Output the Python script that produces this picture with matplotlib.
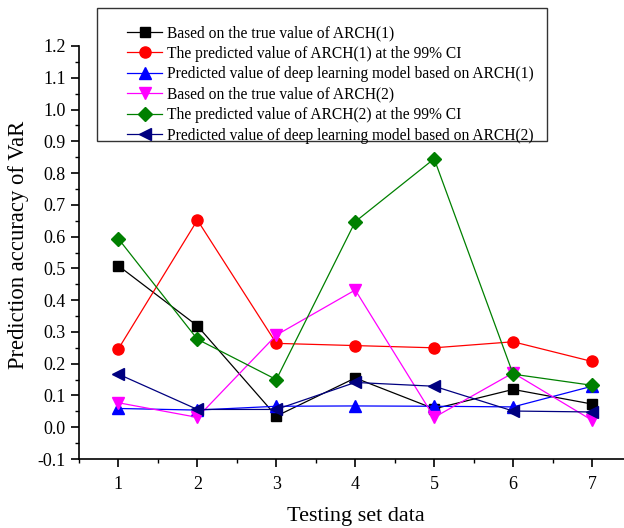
import matplotlib
matplotlib.use("Agg")
import matplotlib.pyplot as plt
from matplotlib.ticker import MultipleLocator
from matplotlib.patches import Rectangle

x = [1, 2, 3, 4, 5, 6, 7]
true_arch1 = [0.508, 0.319, 0.035, 0.155, 0.058, 0.119, 0.073]
pred_arch1_ci = [0.247, 0.652, 0.264, 0.257, 0.250, 0.269, 0.207]
dl_arch1 = [0.059, 0.054, 0.066, 0.067, 0.066, 0.064, 0.129]
true_arch2 = [0.077, 0.031, 0.290, 0.432, 0.031, 0.171, 0.022]
pred_arch2_ci = [0.593, 0.277, 0.150, 0.647, 0.845, 0.167, 0.132]
dl_arch2 = [0.167, 0.056, 0.056, 0.141, 0.129, 0.051, 0.048]

labels = [
    "Based on the true value of ARCH(1)",
    "The predicted value of ARCH(1) at the 99% CI",
    "Predicted value of deep learning model based on ARCH(1)",
    "Based on the true value of ARCH(2)",
    "The predicted value of ARCH(2) at the 99% CI",
    "Predicted value of deep learning model based on ARCH(2)",
]
series = [true_arch1, pred_arch1_ci, dl_arch1, true_arch2, pred_arch2_ci, dl_arch2]
colors = ["black", "red", "blue", "magenta", "green", "navy"]
markers = ["s", "o", "^", "v", "D", "<"]
msizes = [7, 8, 8, 8, 7, 8]

plt.rcParams["font.family"] = ["Liberation Serif", "DejaVu Serif"]

W, H = 624, 528
fig = plt.figure(figsize=(W/100, H/100), dpi=100)
ax = fig.add_axes([79/W, (H-459)/H, 1 - 79/W, (459-46)/H])

for ys, c, m, ms, lab in zip(series, colors, markers, msizes, labels):
    ax.plot(x, ys, color=c, marker=m, markersize=ms, linewidth=0.9, label=lab)

ax.set_xlim(0.5, 7.405)
ax.set_ylim(-0.1, 1.2)
ax.xaxis.set_major_locator(MultipleLocator(1))
ax.xaxis.set_minor_locator(MultipleLocator(0.5))
ax.yaxis.set_minor_locator(MultipleLocator(0.05))
yt = [round(-0.1 + 0.1*i, 1) for i in range(14)]
ax.set_yticks(yt)
ax.set_yticklabels([f"{v:.1f}" for v in yt])
ax.spines["top"].set_visible(False)
ax.spines["right"].set_visible(False)
ax.spines["left"].set_linewidth(1.2)
ax.spines["bottom"].set_linewidth(1.2)
ax.tick_params(which="major", direction="out", length=6, width=1.2, labelsize=13)
ax.tick_params(axis="x", which="major", pad=6)
ax.tick_params(which="minor", direction="out", length=3, width=1.0)
ax.set_xlabel("Testing set data", fontsize=16)
ax.set_ylabel("Prediction accuracy of VaR", fontsize=16.3)
ax.xaxis.set_label_coords((356-79)/545, (459-507)/413)
ax.yaxis.set_label_coords((29-79)/545, (459-245)/413)

# legend frame
fig.add_artist(Rectangle((97/W, 1-141/H), (547-97)/W, (141-8)/H, transform=fig.transFigure,
                         fill=False, edgecolor="#333333", linewidth=1.0))
leg = fig.legend(loc="upper left", bbox_to_anchor=(127/W, 1 - 25/H), fontsize=11.2,
                 frameon=False, borderpad=0, handlelength=2.25, handletextpad=0.3,
                 labelspacing=0.29, borderaxespad=0)

fig.savefig("out.png", dpi=100)
